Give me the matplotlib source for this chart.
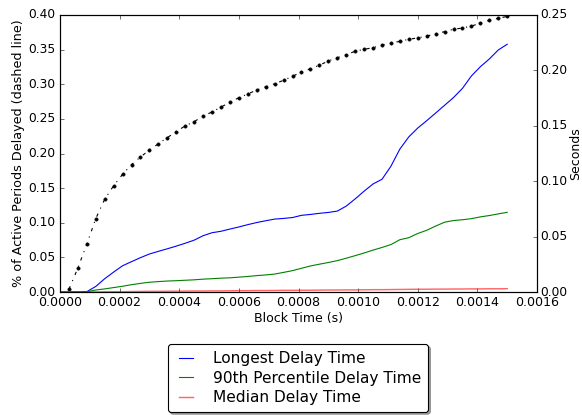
import matplotlib
matplotlib.use("Agg")
import matplotlib.pyplot as plt
import numpy as np

plt.style.use("classic")
plt.rcParams["font.family"] = ["DejaVu Sans"]

# Block time index (step 0.00003 s)
block_time = [k * 0.00003 for k in range(51)]

# % of active periods delayed (dashed line, left axis), k = 1..50
pct_delayed = [0.0039, 0.0347, 0.0693, 0.106, 0.134, 0.1535, 0.170, 0.184, 0.195, 0.205,
               0.214, 0.223, 0.2315, 0.240, 0.246, 0.254, 0.260, 0.267, 0.274, 0.2806,
               0.286, 0.2917, 0.2965, 0.3008, 0.3057, 0.3115, 0.3177, 0.3225, 0.3274, 0.3336,
               0.3383, 0.3427, 0.3476, 0.3505, 0.3528, 0.3567, 0.3593, 0.362, 0.365, 0.3668,
               0.3697, 0.3726, 0.376, 0.3794, 0.3812, 0.3841, 0.388, 0.3924, 0.3952, 0.398]

# Seconds (right axis), k = 0..50
longest = [0, 0, 0, 0.0003, 0.005, 0.012, 0.018, 0.0237, 0.0274, 0.031,
           0.0343, 0.0367, 0.039, 0.0414, 0.044, 0.0468, 0.0508, 0.0535, 0.0548, 0.0568,
           0.0587, 0.0608, 0.0627, 0.0643, 0.0658, 0.0664, 0.0672, 0.0692, 0.0700, 0.0710,
           0.0718, 0.0730, 0.0775, 0.0840, 0.091, 0.0975, 0.1017, 0.1135, 0.129, 0.140,
           0.148, 0.1546, 0.1615, 0.1685, 0.1755, 0.1838, 0.195, 0.2033, 0.2103, 0.2184,
           0.2236]
pct90 = [0, 0, 0, 0.0002, 0.0018, 0.0028, 0.0040, 0.0052, 0.0066, 0.0078,
         0.0088, 0.0094, 0.0099, 0.0102, 0.0106, 0.0110, 0.0116, 0.0120, 0.0125, 0.0128,
         0.0134, 0.0140, 0.0148, 0.0154, 0.0162, 0.0177, 0.0193, 0.0214, 0.0235, 0.0251,
         0.0266, 0.0283, 0.0305, 0.0328, 0.0352, 0.0378, 0.0402, 0.0428, 0.0472, 0.0490,
         0.0528, 0.0557, 0.0595, 0.0630, 0.0645, 0.0652, 0.0662, 0.0678, 0.0690, 0.0705,
         0.0719]
median = [0, 0, 0, 0, 0.0001, 0.0002, 0.0003, 0.0003, 0.0004, 0.0005,
          0.0006, 0.0006, 0.0007, 0.0007, 0.0008, 0.0009, 0.0009, 0.0010, 0.0010, 0.0011,
          0.0012, 0.0012, 0.0013, 0.0013, 0.0014, 0.0015, 0.0015, 0.0016, 0.0016, 0.0017,
          0.0018, 0.0018, 0.0019, 0.0019, 0.0020, 0.0021, 0.0021, 0.0022, 0.0023, 0.0024,
          0.0025, 0.0025, 0.0026, 0.0026, 0.0027, 0.0027, 0.0028, 0.0028, 0.0029, 0.0029,
          0.0030]

x_ticks = [0.0000, 0.0002, 0.0004, 0.0006, 0.0008, 0.0010, 0.0012, 0.0014, 0.0016]
left_ticks = [0.00, 0.05, 0.10, 0.15, 0.20, 0.25, 0.30, 0.35, 0.40]
right_ticks = [0.00, 0.05, 0.10, 0.15, 0.20, 0.25]

DPI = 80
W, H = 582, 415
AX_L, AX_R, AX_T, AX_B = 60, 537, 15, 292
fig = plt.figure(figsize=(W / DPI, H / DPI), dpi=DPI, facecolor="white")
ax = fig.add_axes([AX_L / W, 1 - AX_B / H, (AX_R - AX_L) / W, (AX_B - AX_T) / H])
ax.set_facecolor("white")
ax.plot(block_time[1:], pct_delayed, "k.-.", lw=1.0, ms=6)
ax.set_xlim(0, 0.0016)
ax.set_ylim(0, 0.40)
ax.set_xticks(x_ticks)
ax.set_xticklabels(["%.4f" % v for v in x_ticks])
ax.set_yticks(left_ticks)
ax.set_yticklabels(["%.2f" % v for v in left_ticks])
ax.tick_params(axis="x", labelsize=11.4, pad=4)
ax.tick_params(axis="y", labelsize=11.0, pad=4)
ax.set_xlabel("Block Time (s)", fontsize=11.3)
ax.set_ylabel("% of Active Periods Delayed (dashed line)", fontsize=11.5)
ax.xaxis.set_label_coords(0.5, (AX_B - 312) / (AX_B - AX_T))
ax.yaxis.set_label_coords((25 - AX_L) / (AX_R - AX_L), 0.5)

ax2 = ax.twinx()
l1, = ax2.plot(block_time, longest, color="b", lw=1.0, label="Longest Delay Time")
l2, = ax2.plot(block_time, pct90, color="g", lw=1.0, label="90th Percentile Delay Time")
l3, = ax2.plot(block_time, median, color="r", lw=1.3, alpha=0.6, label="Median Delay Time")
ax2.set_ylim(0, 0.25)
ax2.set_yticks(right_ticks)
ax2.set_yticklabels(["%.2f" % v for v in right_ticks])
ax2.tick_params(axis="y", labelsize=11.0, pad=3)
ax2.set_ylabel("Seconds", fontsize=11.3)
ax2.yaxis.set_label_coords((569 - AX_L) / (AX_R - AX_L), 0.5)
ax2.set_xlim(0, 0.0016)

fig.legend(handles=[l1, l2, l3], loc="center",
           bbox_to_anchor=(298 / W, 1 - 378 / H),
           shadow=True, fancybox=True, fontsize=13.8,
           borderpad=0.45, labelspacing=0.3, handlelength=1.5,
           handletextpad=1.0)

fig.savefig("out.png", dpi=DPI, facecolor="white")
